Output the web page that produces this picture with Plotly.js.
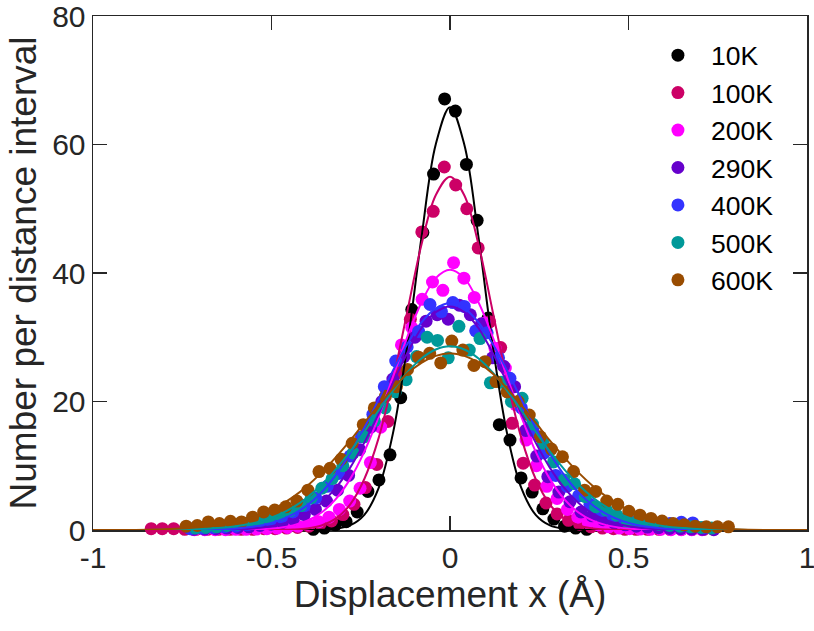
<!DOCTYPE html>
<html>
<head>
<meta charset="utf-8">
<script src="https://cdn.plot.ly/plotly-3.0.1.min.js"></script>
<style>html,body{margin:0;padding:0;background:#fff;}#chart{width:814px;height:631px;}</style>
</head>
<body>
<div id="chart"></div>
<script>
// ---------- data ----------
const seriesNames = ["10K", "100K", "200K", "290K", "400K", "500K", "600K"];
const seriesColors = ["#000000", "#cc0066", "#ff00ff", "#6600cc", "#3333ff", "#009999", "#994c00"];

const x10 = [-0.383,-0.352,-0.321,-0.291,-0.260,-0.230,-0.199,-0.168,-0.138,-0.107,-0.076,-0.046,-0.015,0.015,0.046,0.076,0.107,0.138,0.168,0.199,0.230,0.260,0.291,0.321,0.352,0.383];
const y10 = [0.1,0.3,0.8,1.3,2.8,6.0,7.8,11.7,20.6,34.3,46.3,55.4,67.1,65.2,56.9,48.2,33.0,16.4,14.0,8.1,5.9,3.3,1.7,0.6,0.3,0.1];

const x100 = [-0.837,-0.806,-0.774,-0.743,-0.711,-0.679,-0.648,-0.616,-0.585,-0.553,-0.521,-0.490,-0.458,-0.427,-0.395,-0.363,-0.332,-0.300,-0.269,-0.237,-0.205,-0.174,-0.142,-0.111,-0.079,-0.047,-0.016,0.016,0.047,0.079,0.111,0.142,0.174,0.205,0.237,0.269,0.300,0.332,0.363,0.395,0.427,0.458,0.490,0.521,0.553,0.585,0.616,0.648,0.679,0.711];
const y100 = [0.2,0.2,0.2,0.1,0.1,0.1,0.1,0.1,0.1,0.1,0.2,0.2,0.3,0.4,0.6,1.0,1.4,2.4,4.0,6.6,10.2,16.9,24.5,32.8,46.4,49.6,56.5,53.7,50.0,43.9,32.4,28.4,16.6,10.4,7.0,4.2,2.5,1.5,0.9,0.5,0.3,0.2,0.1,0.1,0.1,0.1,0.1,0.1,0.1,0.1];

const x200 = [-0.716,-0.687,-0.658,-0.629,-0.600,-0.571,-0.542,-0.513,-0.484,-0.455,-0.426,-0.397,-0.368,-0.339,-0.310,-0.281,-0.252,-0.223,-0.194,-0.165,-0.136,-0.107,-0.078,-0.049,-0.020,0.010,0.039,0.068,0.097,0.126,0.155,0.184,0.213,0.242,0.271,0.300,0.329,0.358,0.387,0.416,0.445,0.474,0.503,0.532,0.561,0.590,0.619,0.648,0.677,0.706];
const y200 = [0.05,0.05,0.05,0.05,0.1,0.1,0.15,0.2,0.3,0.4,0.6,0.9,1.3,2.0,3.2,4.5,6.5,10.5,16.0,22.0,28.8,31.5,35.9,38.6,37.3,41.6,39.2,36.2,32.2,28.3,25.2,19.5,14.0,10.0,6.8,4.9,3.2,2.0,1.2,0.8,0.5,0.3,0.2,0.15,0.1,0.1,0.05,0.05,0.05,0.05];

const x290 = [-0.718,-0.687,-0.656,-0.625,-0.594,-0.563,-0.532,-0.501,-0.470,-0.439,-0.408,-0.377,-0.346,-0.315,-0.284,-0.253,-0.222,-0.191,-0.160,-0.129,-0.098,-0.067,-0.036,-0.005,0.026,0.057,0.088,0.119,0.150,0.181,0.212,0.243,0.274,0.305,0.336,0.367,0.398,0.429,0.460,0.491,0.522,0.553,0.584,0.615,0.646,0.677,0.708,0.739];
const y290 = [0.1,0.15,0.2,0.3,0.4,0.5,0.7,0.9,1.2,1.7,2.4,3.2,4.5,6.2,8.5,12.5,16.0,20.0,23.5,27.0,30.0,32.5,33.5,32.8,35.0,33.5,32.1,26.8,25.5,22.3,15.5,11.5,8.3,5.9,4.4,2.8,2.2,1.6,1.1,0.8,0.6,0.45,0.35,0.25,0.2,0.15,0.1,0.05];

const x400 = [-0.728,-0.696,-0.664,-0.632,-0.600,-0.568,-0.536,-0.504,-0.472,-0.440,-0.408,-0.376,-0.344,-0.312,-0.280,-0.248,-0.216,-0.184,-0.152,-0.120,-0.088,-0.056,-0.024,0.008,0.040,0.072,0.104,0.136,0.168,0.200,0.232,0.264,0.296,0.328,0.360,0.392,0.424,0.456,0.488,0.520,0.552,0.584,0.616,0.648,0.680,0.712];
const y400 = [0.2,0.3,0.4,0.5,0.6,0.8,1.1,1.5,2.0,2.8,3.8,5.0,6.8,8.8,11.5,14.5,18.0,22.3,26.3,28.5,30.9,35.1,34.0,35.4,34.8,31.0,30.7,26.8,23.6,19.0,15.5,12.0,8.5,6.8,5.3,4.0,3.0,2.2,1.7,1.3,1.2,1.0,1.0,1.2,1.1,0.4];

const x500 = [-0.713,-0.684,-0.654,-0.625,-0.595,-0.566,-0.536,-0.507,-0.477,-0.448,-0.418,-0.389,-0.359,-0.330,-0.300,-0.271,-0.241,-0.212,-0.182,-0.153,-0.123,-0.094,-0.064,-0.035,-0.005,0.025,0.054,0.084,0.113,0.143,0.172,0.202,0.231,0.261,0.290,0.320,0.349,0.379,0.408,0.438,0.467,0.497,0.526,0.556,0.585,0.615,0.644,0.674,0.703,0.733];
const y500 = [0.3,0.4,0.5,0.7,0.9,1.1,1.5,1.9,2.4,3.0,3.8,5.0,6.5,8.0,10.0,12.0,14.5,17.0,19.0,21.5,23.4,27.0,30.0,29.5,26.8,31.7,28.0,29.8,22.9,23.0,20.0,20.5,16.5,13.5,10.6,7.8,7.2,5.2,3.6,3.1,2.3,1.3,1.4,1.0,0.9,0.7,0.6,0.5,0.4,0.3];

const x600 = [-0.739,-0.708,-0.677,-0.646,-0.615,-0.584,-0.553,-0.522,-0.491,-0.460,-0.429,-0.398,-0.367,-0.336,-0.305,-0.274,-0.243,-0.212,-0.181,-0.150,-0.119,-0.088,-0.057,-0.026,0.005,0.036,0.067,0.098,0.129,0.160,0.191,0.222,0.253,0.284,0.315,0.346,0.377,0.408,0.439,0.470,0.501,0.532,0.563,0.594,0.625,0.656,0.687,0.718,0.749,0.780];
const y600 = [0.6,0.7,1.25,1.0,1.35,1.25,2.0,2.8,3.1,3.6,4.5,6.2,9.1,9.6,11.0,13.5,16.4,19.0,20.8,22.3,25.0,26.9,27.5,26.0,29.4,28.0,25.6,26.2,23.1,21.5,20.0,17.9,14.5,12.6,11.4,9.1,6.2,6.0,4.5,4.0,2.9,2.3,1.8,1.4,1.0,0.8,0.6,0.5,0.5,0.5];

// fitted curves at these x positions
const fitX = [-1,-0.8,-0.64,-0.6,-0.56,-0.52,-0.48,-0.44,-0.4,-0.36,-0.32,-0.28,-0.24,-0.2,-0.16,-0.12,-0.08,-0.04,0,0.04,0.08,0.12,0.16,0.2,0.24,0.28,0.32,0.36,0.4,0.44,0.48,0.52,0.56,0.6,0.64,0.8,1];
const fit10  = [0,0,0,0,0,0,0,0,0,0.04,0.18,0.71,2.36,6.5,15.0,28.6,45.5,60.0,65.8,60.0,45.5,28.6,15.0,6.5,2.36,0.71,0.18,0.04,0,0,0,0,0,0,0,0,0];
const fit100 = [0,0,0,0,0,0,0.02,0.08,0.25,0.71,1.77,3.95,7.94,14.3,23.3,33.9,44.4,52.1,55.0,52.1,44.4,33.9,23.3,14.3,7.94,3.95,1.77,0.71,0.25,0.08,0.02,0,0,0,0,0,0];
const fit200 = [0,0,0,0.02,0.06,0.15,0.33,0.72,1.45,2.73,4.81,7.92,12.2,17.6,23.8,30.0,35.4,39.2,40.5,39.2,35.4,30.0,23.8,17.6,12.2,7.92,4.81,2.73,1.45,0.72,0.33,0.15,0.06,0.02,0,0,0];
const fit290 = [0,0,0.04,0.10,0.21,0.42,0.81,1.48,2.55,4.19,6.54,9.67,13.6,18.1,22.9,27.5,31.4,33.9,34.8,33.9,31.4,27.5,22.9,18.1,13.6,9.67,6.54,4.19,2.55,1.48,0.81,0.42,0.21,0.10,0.04,0,0];
const fit400 = [0,0.01,0.12,0.24,0.46,0.83,1.45,2.42,3.85,5.86,8.55,11.9,15.9,20.3,24.8,28.9,32.3,34.5,35.3,34.5,32.3,28.9,24.8,20.3,15.9,11.9,8.55,5.86,3.85,2.42,1.45,0.83,0.46,0.24,0.12,0.01,0];
const fit500 = [0,0.03,0.34,0.58,0.96,1.54,2.37,3.52,5.07,7.04,9.45,12.2,15.3,18.6,21.7,24.5,26.7,28.1,28.6,28.1,26.7,24.5,21.7,18.6,15.3,12.2,9.45,7.04,5.07,3.52,2.37,1.54,0.96,0.58,0.34,0.03,0];
const fit600 = [0,0.11,0.79,1.21,1.81,2.63,3.72,5.12,6.86,8.93,11.3,13.9,16.7,19.4,22.0,24.3,26.0,27.1,27.5,27.1,26.0,24.3,22.0,19.4,16.7,13.9,11.3,8.93,6.86,5.12,3.72,2.63,1.81,1.21,0.79,0.11,0];

const xTickVals = [-1, -0.5, 0, 0.5, 1];
const xTickText = ["-1", "-0.5", "0", "0.5", "1"];
const yTickVals = [0, 20, 40, 60, 80];
const yTickText = ["0", "20", "40", "60", "80"];

// ---------- traces ----------
const pointsX = [x10, x100, x200, x290, x400, x500, x600];
const pointsY = [y10, y100, y200, y290, y400, y500, y600];
const fits = [fit10, fit100, fit200, fit290, fit400, fit500, fit600];

const traces = [];
for (let i = 0; i < seriesNames.length; i++) {
  traces.push({
    type: "scatter", mode: "markers", name: seriesNames[i],
    x: pointsX[i], y: pointsY[i],
    marker: {size: 13, color: seriesColors[i], line: {width: 0}},
    cliponaxis: false, hoverinfo: "x+y"
  });
}
for (let i = 0; i < seriesNames.length; i++) {
  traces.push({
    type: "scatter", mode: "lines", name: seriesNames[i] + " fit",
    x: fitX, y: fits[i], showlegend: false,
    line: {color: seriesColors[i], width: 2, shape: "spline", smoothing: 1},
    cliponaxis: false, hoverinfo: "skip"
  });
}

const FONT = "Liberation Sans, Arial, sans-serif";
const axisCommon = {
  showgrid: false, zeroline: false, showline: true,
  linecolor: "#262626", linewidth: 1.5, mirror: "ticks",
  ticks: "inside", ticklen: 14, tickwidth: 1.3, tickcolor: "#262626",
  tickfont: {family: FONT, size: 30, color: "#262626"},
  ticklabeloverflow: "allow",
  layer: "below traces", fixedrange: true
};

const layout = {
  width: 814, height: 631,
  margin: {l: 93, r: 7, t: 16, b: 101, pad: 0},
  paper_bgcolor: "#ffffff", plot_bgcolor: "#ffffff",
  font: {family: FONT, color: "#262626"},
  showlegend: true,
  legend: {
    x: 0.773, y: 0.97, xanchor: "left", yanchor: "top",
    bgcolor: "rgba(0,0,0,0)", borderwidth: 0,
    itemwidth: 56,
    font: {family: FONT, size: 26.5, color: "#000000"},
    tracegroupgap: 0
  },
  xaxis: Object.assign({}, axisCommon, {
    range: [-1, 1], tickmode: "array", tickvals: xTickVals, ticktext: xTickText,
    title: {text: "Displacement x (Å)", font: {family: FONT, size: 37, color: "#262626"}, standoff: 8}
  }),
  yaxis: Object.assign({}, axisCommon, {
    range: [0, 80], tickmode: "array", tickvals: yTickVals, ticktext: yTickText,
    title: {text: "Number per distance interval", font: {family: FONT, size: 37, color: "#262626"}, standoff: 4}
  })
};

Plotly.newPlot("chart", traces, layout, {displayModeBar: false, staticPlot: true});
</script>
</body>
</html>
